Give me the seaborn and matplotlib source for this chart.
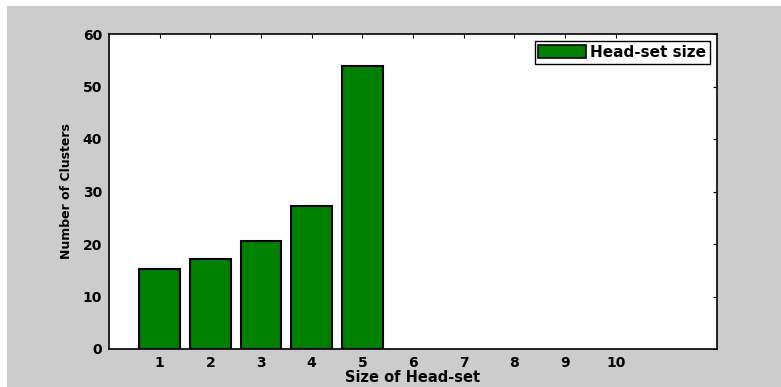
import numpy as np
import pandas as pd
import matplotlib
matplotlib.use('Agg')
import matplotlib.pyplot as plt
import matplotlib.patches as mpatches
import seaborn as sns

# data
head_set_size = [1, 2, 3, 4, 5, 6, 7, 8, 9, 10]
num_clusters = [15.2, 17.2, 20.6, 27.3, 54.0, 0, 0, 0, 0, 0]
y_ticks = [0, 10, 20, 30, 40, 50, 60]

sns.set_style('white')
plt.rcParams['font.family'] = ['DejaVu Sans']
plt.rcParams['font.weight'] = 'bold'
plt.rcParams['text.color'] = 'black'
plt.rcParams['axes.labelcolor'] = 'black'

df = pd.DataFrame({'size': head_set_size, 'clusters': num_clusters})

fig = plt.figure(figsize=(7.81, 3.87), dpi=100, facecolor='white')
# gray MATLAB-style figure background (small white margin on top/left)
fig.patches.append(mpatches.Rectangle((7 / 781, 0), 1, 1 - 6 / 387,
                                      transform=fig.transFigure,
                                      facecolor='#cccccc', edgecolor='none', zorder=-10))
ax = fig.add_axes([109 / 781, 1 - 349 / 387, (717 - 109) / 781, (349 - 34) / 387])
ax.set_facecolor('white')

sns.barplot(data=df, x='size', y='clusters', native_scale=True, width=0.8,
            color='#008000', saturation=1, edgecolor='black', linewidth=1.5, ax=ax)

# zero-height bars: no visible edge on the axis line
for p in ax.patches:
    if p.get_height() == 0:
        p.set_linewidth(0)

ax.set_xlim(0, 12)
ax.set_ylim(0, 60)
ax.set_xticks(head_set_size)
ax.set_xticklabels([str(v) for v in head_set_size])
ax.set_yticks(y_ticks)

for s in ax.spines.values():
    s.set_visible(True)
    s.set_color('black')
    s.set_linewidth(1.2)

ax.tick_params(axis='both', which='major', direction='in', length=3, width=0.8,
               top=True, right=True, labelsize=10, colors='black', pad=5)
for label in ax.get_xticklabels() + ax.get_yticklabels():
    label.set_fontweight('bold')

ax.set_xlabel('Size of Head-set', fontsize=10.5, fontweight='bold', labelpad=0,
              color='black')
ax.set_ylabel('Number of Clusters', fontsize=9, fontweight='bold', labelpad=7,
              color='black')

handle = mpatches.Patch(facecolor='#008000', edgecolor='black', linewidth=1.2,
                        label='Head-set size')
leg = ax.legend(handles=[handle], loc='upper right', fancybox=False, framealpha=1,
                edgecolor='black', prop={'weight': 'bold', 'size': 11},
                handlelength=3.1, handleheight=0.9, handletextpad=0.3,
                borderpad=0.25, borderaxespad=0.45)
leg.get_frame().set_linewidth(1.0)
for t in leg.get_texts():
    t.set_color('black')

fig.savefig('out.png', dpi=100, facecolor=fig.get_facecolor())
